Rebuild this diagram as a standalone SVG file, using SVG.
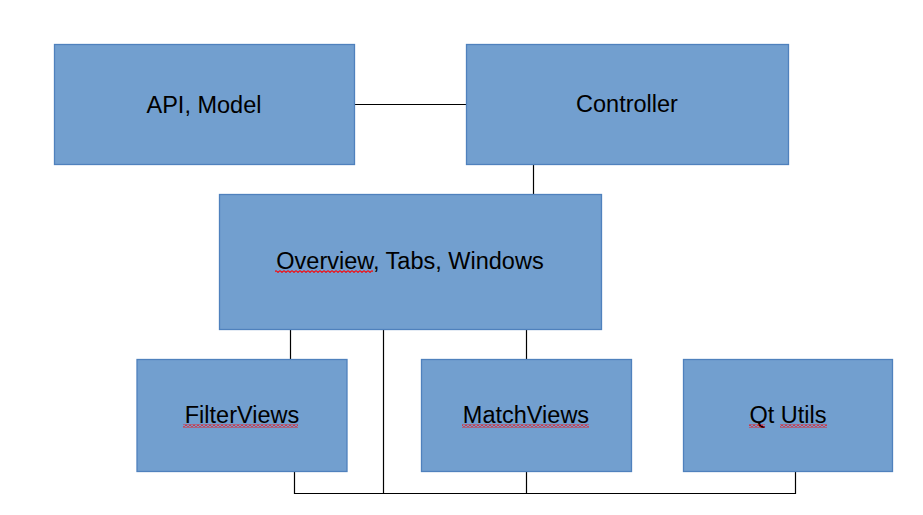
<svg xmlns="http://www.w3.org/2000/svg" width="923" height="515" viewBox="0 0 923 515">
<style>
.box{fill:#729fcf;stroke:#4f81bd;stroke-width:1.3}
.lbl{font-family:"Liberation Sans",Arial,sans-serif;font-size:23.5px;fill:#000;text-anchor:middle}
.con{stroke:#000;stroke-width:1.2;fill:none}
</style>
<defs>
<pattern id="sq" patternUnits="userSpaceOnUse" x="0" y="0" width="4" height="3">
<path d="M0 0.6 L2 2.4 L4 0.6" stroke="#f00" stroke-width="1.1" fill="none"/>
</pattern>
</defs>
<rect width="923" height="515" fill="#fff"/>
<g id="connectors">
<path class="con" d="M354 104.5 H466"/>
<path class="con" d="M533.5 164 V194"/>
<path class="con" d="M290.5 329 V359"/>
<path class="con" d="M526.5 329 V359"/>
<path class="con" d="M383.5 329 V493.5"/>
<path class="con" d="M294.5 471 V493.5 H795.5 V471"/>
<path class="con" d="M526.5 471 V493.5"/>
</g>
<g id="api">
<rect class="box" x="54.5" y="44.5" width="300" height="120"/>
<text class="lbl" x="204" y="112.5">API, Model</text>
</g>
<g id="controller">
<rect class="box" x="466.5" y="44.5" width="322" height="120"/>
<text class="lbl" x="627" y="112">Controller</text>
</g>
<g id="overview">
<rect class="box" x="219.5" y="194.5" width="382" height="135"/>
<text class="lbl" x="410" y="268.5">Overview, Tabs, Windows</text>
<rect x="275" y="270" width="98" height="3" fill="url(#sq)"/>
</g>
<g id="filterviews">
<rect class="box" x="137" y="359.5" width="210" height="112"/>
<text class="lbl" x="242" y="423">FilterViews</text>
<rect x="183" y="424.5" width="115" height="3" fill="url(#sq)"/>
</g>
<g id="matchviews">
<rect class="box" x="421.5" y="359.5" width="210" height="112"/>
<text class="lbl" x="526" y="423">MatchViews</text>
<rect x="462" y="424.5" width="127" height="3" fill="url(#sq)"/>
</g>
<g id="qtutils">
<rect class="box" x="683.5" y="359.5" width="209" height="112"/>
<text class="lbl" x="788" y="423">Qt Utils</text>
<rect x="749" y="424.5" width="16" height="3" fill="url(#sq)"/>
<rect x="780" y="424.5" width="47" height="3" fill="url(#sq)"/>
</g>
</svg>
